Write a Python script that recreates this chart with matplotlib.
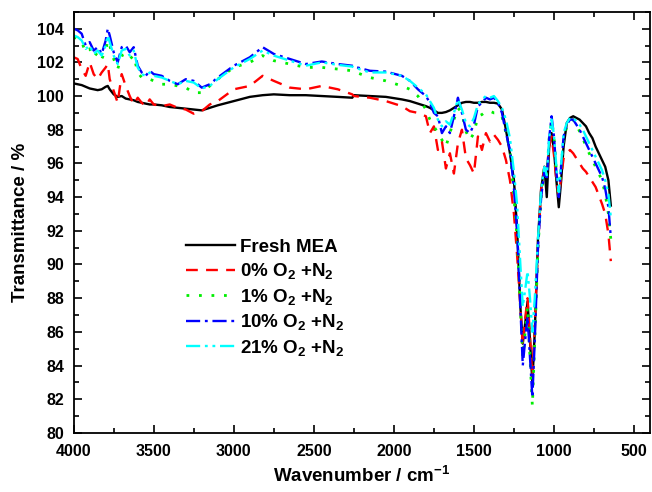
import matplotlib
matplotlib.use("Agg")
import matplotlib.pyplot as plt
from matplotlib.ticker import MultipleLocator

plt.rcParams['font.family'] = ['Liberation Sans', 'DejaVu Sans']
plt.rcParams['font.weight'] = 'bold'
plt.rcParams['mathtext.fontset'] = 'custom'
plt.rcParams['mathtext.rm'] = 'Liberation Sans:bold'
plt.rcParams['mathtext.bf'] = 'Liberation Sans:bold'
plt.rcParams['mathtext.default'] = 'bf'

wavenumber = [4000, 3975, 3950, 3925, 3900, 3875, 3850, 3825, 3800, 3787,
              3775, 3750, 3725, 3700, 3675, 3650, 3625, 3600, 3575, 3550,
              3525, 3500, 3450, 3400, 3350, 3300, 3250, 3200, 3150, 3100,
              3000, 2900, 2820, 2750, 2650, 2550, 2450, 2350, 2260, 2250,
              2150, 2050, 1950, 1900, 1850, 1800, 1775, 1750, 1725, 1700,
              1675, 1650, 1625, 1600, 1575, 1550, 1525, 1500, 1475, 1450,
              1425, 1400, 1375, 1350, 1325, 1300, 1275, 1250, 1230, 1210,
              1195, 1180, 1165, 1150, 1135, 1120, 1100, 1080, 1060, 1045,
              1030, 1015, 1000, 985, 970, 955, 940, 920, 900, 880,
              860, 840, 820, 800, 780, 760, 740, 720, 700, 680, 660, 645]

fresh_mea = [100.75, 100.7, 100.65, 100.55, 100.45, 100.4, 100.35, 100.4, 100.55, 100.6,
             100.4, 100.1, 99.95, 100.0, 99.85, 99.8, 99.75, 99.65, 99.6, 99.55,
             99.5, 99.5, 99.45, 99.35, 99.3, 99.25, 99.2, 99.15, 99.3, 99.45,
             99.7, 99.95, 100.05, 100.1, 100.05, 100.05, 100.0, 99.95, 99.9, 100.05,
             100.0, 99.95, 99.8, 99.7, 99.55, 99.4, 99.3, 99.15, 99.0, 99.0,
             99.05, 99.15, 99.3, 99.45, 99.6, 99.65, 99.65, 99.6, 99.6, 99.65,
             99.65, 99.6, 99.6, 99.55, 99.2, 98.0, 96.6, 95.0, 92.0, 87.5,
             85.3, 86.5, 87.8, 85.5, 83.0, 86.0, 91.5, 94.5, 95.8, 94.0,
             97.0, 97.8, 96.8, 95.0, 93.4, 95.0, 97.0, 98.4, 98.7, 98.8,
             98.7, 98.6, 98.4, 98.2, 97.8, 97.5, 97.0, 96.6, 96.2, 95.8, 95.0, 93.5]

o2_0 = [102.3, 102.2, 101.6, 101.2, 102.0, 101.3, 101.0, 101.4, 101.7, 101.9,
        101.0, 100.3, 99.6, 101.3, 100.6, 100.0, 99.5, 99.9, 99.6, 99.4,
        99.8, 99.5, 99.4, 99.5, 99.3, 99.2, 98.95, 99.1, 99.5, 99.7,
        100.4, 100.6, 101.2, 100.9, 100.5, 100.4, 100.6, 100.4, 100.1, 100.0,
        99.9, 99.7, 99.4, 99.1, 99.0, 98.8, 97.8, 98.2, 96.8, 97.3,
        95.7, 96.6, 95.4, 97.2, 98.0, 96.3, 95.9, 95.4, 97.6, 96.8,
        97.8, 97.3, 97.7, 97.4, 97.0, 96.2, 95.0, 93.0, 90.5, 87.5,
        85.2, 86.8, 88.0, 85.8, 83.3, 86.5, 91.0, 94.5, 95.8, 95.5,
        97.0, 97.6, 96.5, 95.0, 94.0, 95.2, 96.3, 96.6, 96.8, 96.6,
        96.3, 96.0, 95.7, 95.5, 95.2, 94.9, 94.6, 94.1, 93.6, 93.0, 91.8, 90.2]

o2_1 = [103.5, 103.4, 103.2, 102.6, 102.8, 102.3, 102.6, 102.2, 102.7, 103.3,
        103.0, 102.2, 101.6, 102.4, 102.5, 102.2, 102.4, 101.4, 101.1, 101.0,
        101.0, 100.9, 100.7, 100.7, 100.6, 100.5, 100.2, 100.2, 100.6, 101.0,
        101.7, 102.0, 102.4, 102.1, 101.9, 101.7, 101.7, 101.6, 101.5, 101.45,
        101.1, 100.9, 100.6, 100.4, 100.0, 99.2, 98.6, 98.2, 97.8, 97.4,
        97.0, 97.8, 98.6, 99.3, 99.0, 97.9, 97.4, 97.8, 98.8, 98.9,
        99.1, 99.1, 99.0, 99.0, 98.8, 97.8, 96.8, 94.0, 91.5, 87.5,
        84.5, 86.0, 87.5, 84.5, 81.6, 85.5, 91.0, 94.0, 95.8, 95.3,
        97.5, 98.5, 97.6, 95.5, 94.0, 95.8, 97.4, 98.2, 98.5, 98.6,
        98.3, 97.9, 97.5, 97.0, 96.6, 96.2, 95.8, 95.4, 95.0, 94.2, 93.0, 91.5]

o2_10 = [104.0, 103.9, 103.7, 103.0, 103.2, 102.7, 102.9, 102.5, 103.3, 104.0,
         103.6, 102.6, 102.0, 102.9, 103.0, 102.6, 102.9, 101.8, 101.4, 101.2,
         101.5, 101.3, 101.2, 100.9, 100.7, 101.0, 100.9, 100.5, 100.7, 101.1,
         101.8, 102.3, 102.9, 102.5, 102.2, 101.9, 102.05, 101.9, 101.8, 101.75,
         101.5, 101.45, 101.2, 100.9, 100.4, 100.0, 99.6, 99.0, 98.8, 97.8,
         98.2, 97.8, 98.8, 99.9, 99.0, 98.0, 97.8, 98.3, 99.4, 99.6,
         99.9, 99.8, 99.9, 99.6, 99.0, 97.8, 96.8, 94.5, 92.0, 87.5,
         84.0, 85.5, 86.9, 84.5, 82.1, 85.5, 91.0, 94.0, 95.6, 95.0,
         97.5, 98.8, 97.6, 95.5, 94.0, 95.8, 97.6, 98.3, 98.6, 98.6,
         98.3, 98.0, 97.6, 97.2, 96.8, 96.4, 96.0, 95.6, 95.2, 94.5, 93.4, 91.6]

o2_21 = [103.6, 103.5, 103.3, 102.8, 103.0, 102.5, 102.7, 102.4, 103.0, 103.6,
         103.2, 102.4, 101.9, 102.7, 102.8, 102.4, 102.7, 101.7, 101.3, 101.2,
         101.4, 101.2, 101.1, 100.9, 100.7, 100.9, 100.8, 100.45, 100.6, 101.0,
         101.7, 102.2, 102.7, 102.4, 102.1, 101.8, 102.0, 101.85, 101.75, 101.7,
         101.4, 101.4, 101.2, 100.9, 100.5, 100.1, 99.7, 99.3, 98.6, 98.2,
         98.5, 98.3, 99.0, 99.8, 99.2, 98.4, 98.2, 98.7, 99.5, 99.8,
         100.0, 99.9, 100.0, 99.7, 99.3, 98.6, 97.5, 95.5, 93.5, 90.0,
         87.5, 88.5, 89.6, 88.0, 86.0, 88.0, 91.5, 94.5, 95.8, 95.3,
         97.5, 98.6, 97.7, 95.8, 94.3, 96.0, 97.8, 98.4, 98.7, 98.7,
         98.5, 98.3, 98.0, 97.6, 97.2, 96.8, 96.4, 96.0, 95.6, 95.0, 94.2, 92.8]

labels = ['Fresh MEA', r'0% O$_2$ +N$_2$', r'1% O$_2$ +N$_2$',
          r'10% O$_2$ +N$_2$', r'21% O$_2$ +N$_2$']

fig = plt.figure(figsize=(6.52, 4.92), dpi=100)
ax = fig.add_axes([0.113, 0.12, 0.884, 0.856])

ax.plot(wavenumber, fresh_mea, color='black', lw=1.7, ls='-', label=labels[0])
ax.plot(wavenumber, o2_0, color='#ff0000', lw=1.7, ls=(0, (5, 3.5)), label=labels[1])
ax.plot(wavenumber, o2_1, color='#00ee00', lw=2.0, ls=(0, (1, 3.5)), label=labels[2])
ax.plot(wavenumber, o2_10, color='#0000ff', lw=1.7, ls=(0, (6, 2, 1.2, 2)), label=labels[3])
ax.plot(wavenumber, o2_21, color='#00ffff', lw=1.7, ls=(0, (6, 2, 1.2, 2, 1.2, 2)), label=labels[4])

ax.set_xlim(4000, 400)
ax.set_ylim(80, 105)
ax.xaxis.set_major_locator(MultipleLocator(500))
ax.xaxis.set_minor_locator(MultipleLocator(250))
ax.yaxis.set_minor_locator(MultipleLocator(1))
ax.set_yticks(range(80, 105, 2))
ax.tick_params(which='both', direction='in', top=True, right=True, width=1.2)
ax.tick_params(which='major', length=6, labelsize=11.5)
ax.tick_params(which='minor', length=3.5)
ax.tick_params(axis='x', which='major', pad=8)
ax.tick_params(axis='y', which='major', pad=7)
ax.tick_params(which='both', labeltop=False, labelright=False)
for s in ax.spines.values():
    s.set_linewidth(1.3)

ax.set_xlabel('Wavenumber / cm$^{-1}$', fontsize=13.5, fontweight='bold', labelpad=5)
ax.set_ylabel('Transmittance / %', fontsize=13.5, fontweight='bold', labelpad=6)

leg = ax.legend(loc='upper left', bbox_to_anchor=(0.195, 0.462), frameon=False,
                fontsize=13.5, handlelength=2.6, handletextpad=0.3,
                labelspacing=0.3, borderaxespad=0, borderpad=0)

fig.savefig('out.png', dpi=100)
